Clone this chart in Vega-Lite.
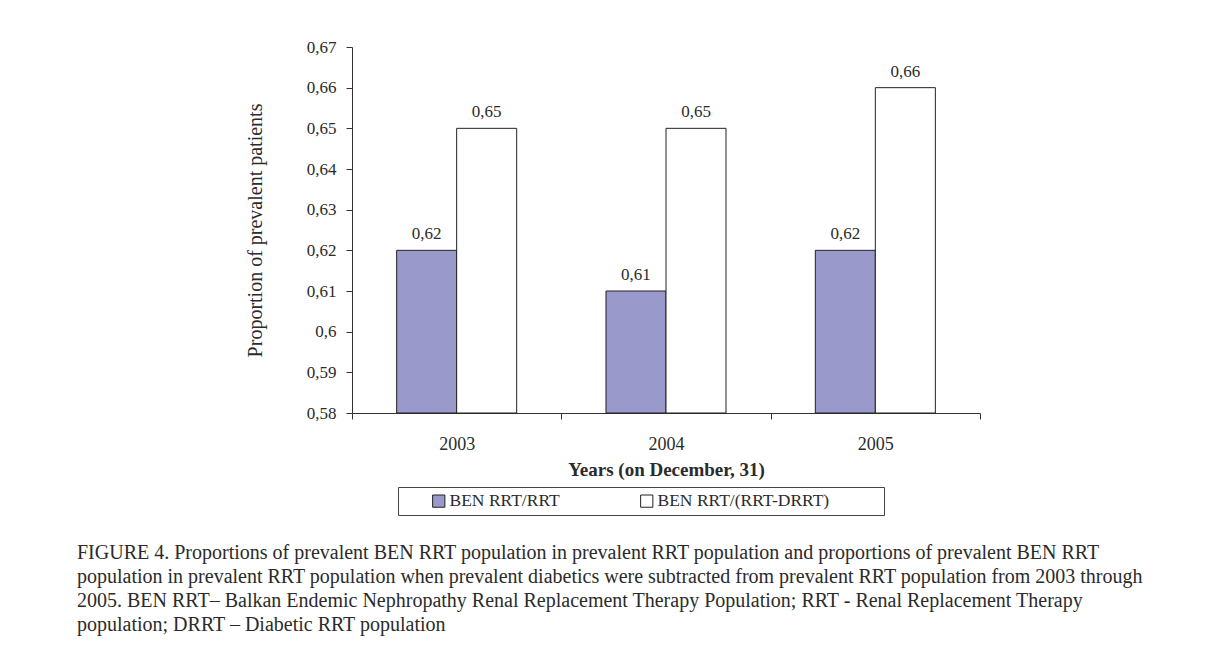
{
  "$schema": "https://vega.github.io/schema/vega-lite/v6.json",
  "width": 628,
  "height": 366,
  "autosize": {"type": "none"},
  "padding": {"left": 352, "top": 47, "right": 228, "bottom": 248},
  "background": "white",
  "data": {
    "values": [
      {"year": "2003", "series": "BEN RRT/RRT", "value": 0.62},
      {"year": "2003", "series": "BEN RRT/(RRT-DRRT)", "value": 0.65},
      {"year": "2004", "series": "BEN RRT/RRT", "value": 0.61},
      {"year": "2004", "series": "BEN RRT/(RRT-DRRT)", "value": 0.65},
      {"year": "2005", "series": "BEN RRT/RRT", "value": 0.62},
      {"year": "2005", "series": "BEN RRT/(RRT-DRRT)", "value": 0.66}
    ]
  },
  "title": {
    "text": [
      "FIGURE 4. Proportions of prevalent BEN RRT population in prevalent RRT population and proportions of prevalent BEN RRT",
      "population in prevalent RRT population when prevalent diabetics were subtracted from prevalent RRT population from 2003 through",
      "2005. BEN RRT– Balkan Endemic Nephropathy Renal Replacement Therapy Population; RRT - Renal Replacement Therapy",
      "population; DRRT – Diabetic RRT population"
    ],
    "orient": "bottom",
    "anchor": "start",
    "frame": "group",
    "dx": -275,
    "offset": 27,
    "font": "Liberation Serif",
    "fontSize": 20,
    "fontWeight": "normal",
    "lineHeight": 24,
    "color": "#2b2b2b"
  },
  "encoding": {
    "x": {
      "field": "year",
      "type": "nominal",
      "scale": {"paddingInner": 0, "paddingOuter": 0},
      "axis": {
        "title": "Years (on December, 31)",
        "labelAngle": 0,
        "tickBand": "extent",
        "tickSize": 6,
        "labelPadding": 16,
        "titlePadding": 7,
        "titleFontWeight": "bold",
        "titleFontSize": 19,
        "labelFontSize": 18
      }
    },
    "xOffset": {
      "field": "series",
      "type": "nominal",
      "sort": ["BEN RRT/RRT", "BEN RRT/(RRT-DRRT)"],
      "scale": {"paddingInner": 0, "paddingOuter": 0.744}
    },
    "y": {
      "field": "value",
      "type": "quantitative",
      "scale": {"domain": [0.58, 0.67], "nice": false, "zero": false},
      "axis": {
        "title": "Proportion of prevalent patients",
        "values": [0.58, 0.59, 0.6, 0.61, 0.62, 0.63, 0.64, 0.65, 0.66, 0.67],
        "format": ".2~f",
        "grid": false,
        "tickSize": 6,
        "labelPadding": 10,
        "titlePadding": 41,
        "titleFontSize": 20,
        "titleFontWeight": "normal",
        "labelFontSize": 17
      }
    }
  },
  "layer": [
    {
      "mark": {"type": "bar", "stroke": "#222222", "strokeWidth": 1},
      "encoding": {
        "y2": {"datum": 0.58},
        "fill": {
          "field": "series",
          "type": "nominal",
          "sort": ["BEN RRT/RRT", "BEN RRT/(RRT-DRRT)"],
          "scale": {"domain": ["BEN RRT/RRT", "BEN RRT/(RRT-DRRT)"], "range": ["#9999cc", "#ffffff"]},
          "legend": {
            "title": " ",
            "titleOrient": "right",
            "titlePadding": 50,
            "titleFontSize": 10,
            "orient": "none",
            "legendX": 46,
            "legendY": 440,
            "direction": "horizontal",
            "strokeColor": "#444444",
            "padding": 5,
            "symbolType": "square",
            "symbolSize": 150,
            "symbolStrokeColor": "#222222",
            "symbolStrokeWidth": 1,
            "symbolOffset": 27,
            "labelFontSize": 17.5,
            "labelOffset": 2,
            "labelLimit": 400,
            "columnPadding": 51
          }
        }
      }
    },
    {
      "mark": {"type": "text", "dy": -7, "baseline": "bottom", "fontSize": 17, "color": "#2b2b2b"},
      "encoding": {
        "text": {"field": "value", "type": "quantitative", "format": ".2~f"}
      }
    }
  ],
  "config": {
    "locale": {"number": {"decimal": ",", "thousands": ".", "grouping": [3], "currency": ["", " €"]}},
    "font": "Liberation Serif",
    "view": {"stroke": null},
    "axis": {
      "domainColor": "#333333",
      "tickColor": "#333333",
      "labelColor": "#2b2b2b",
      "titleColor": "#2b2b2b",
      "labelFont": "Liberation Serif",
      "titleFont": "Liberation Serif"
    },
    "legend": {"labelFont": "Liberation Serif", "labelColor": "#2b2b2b"}
  }
}
